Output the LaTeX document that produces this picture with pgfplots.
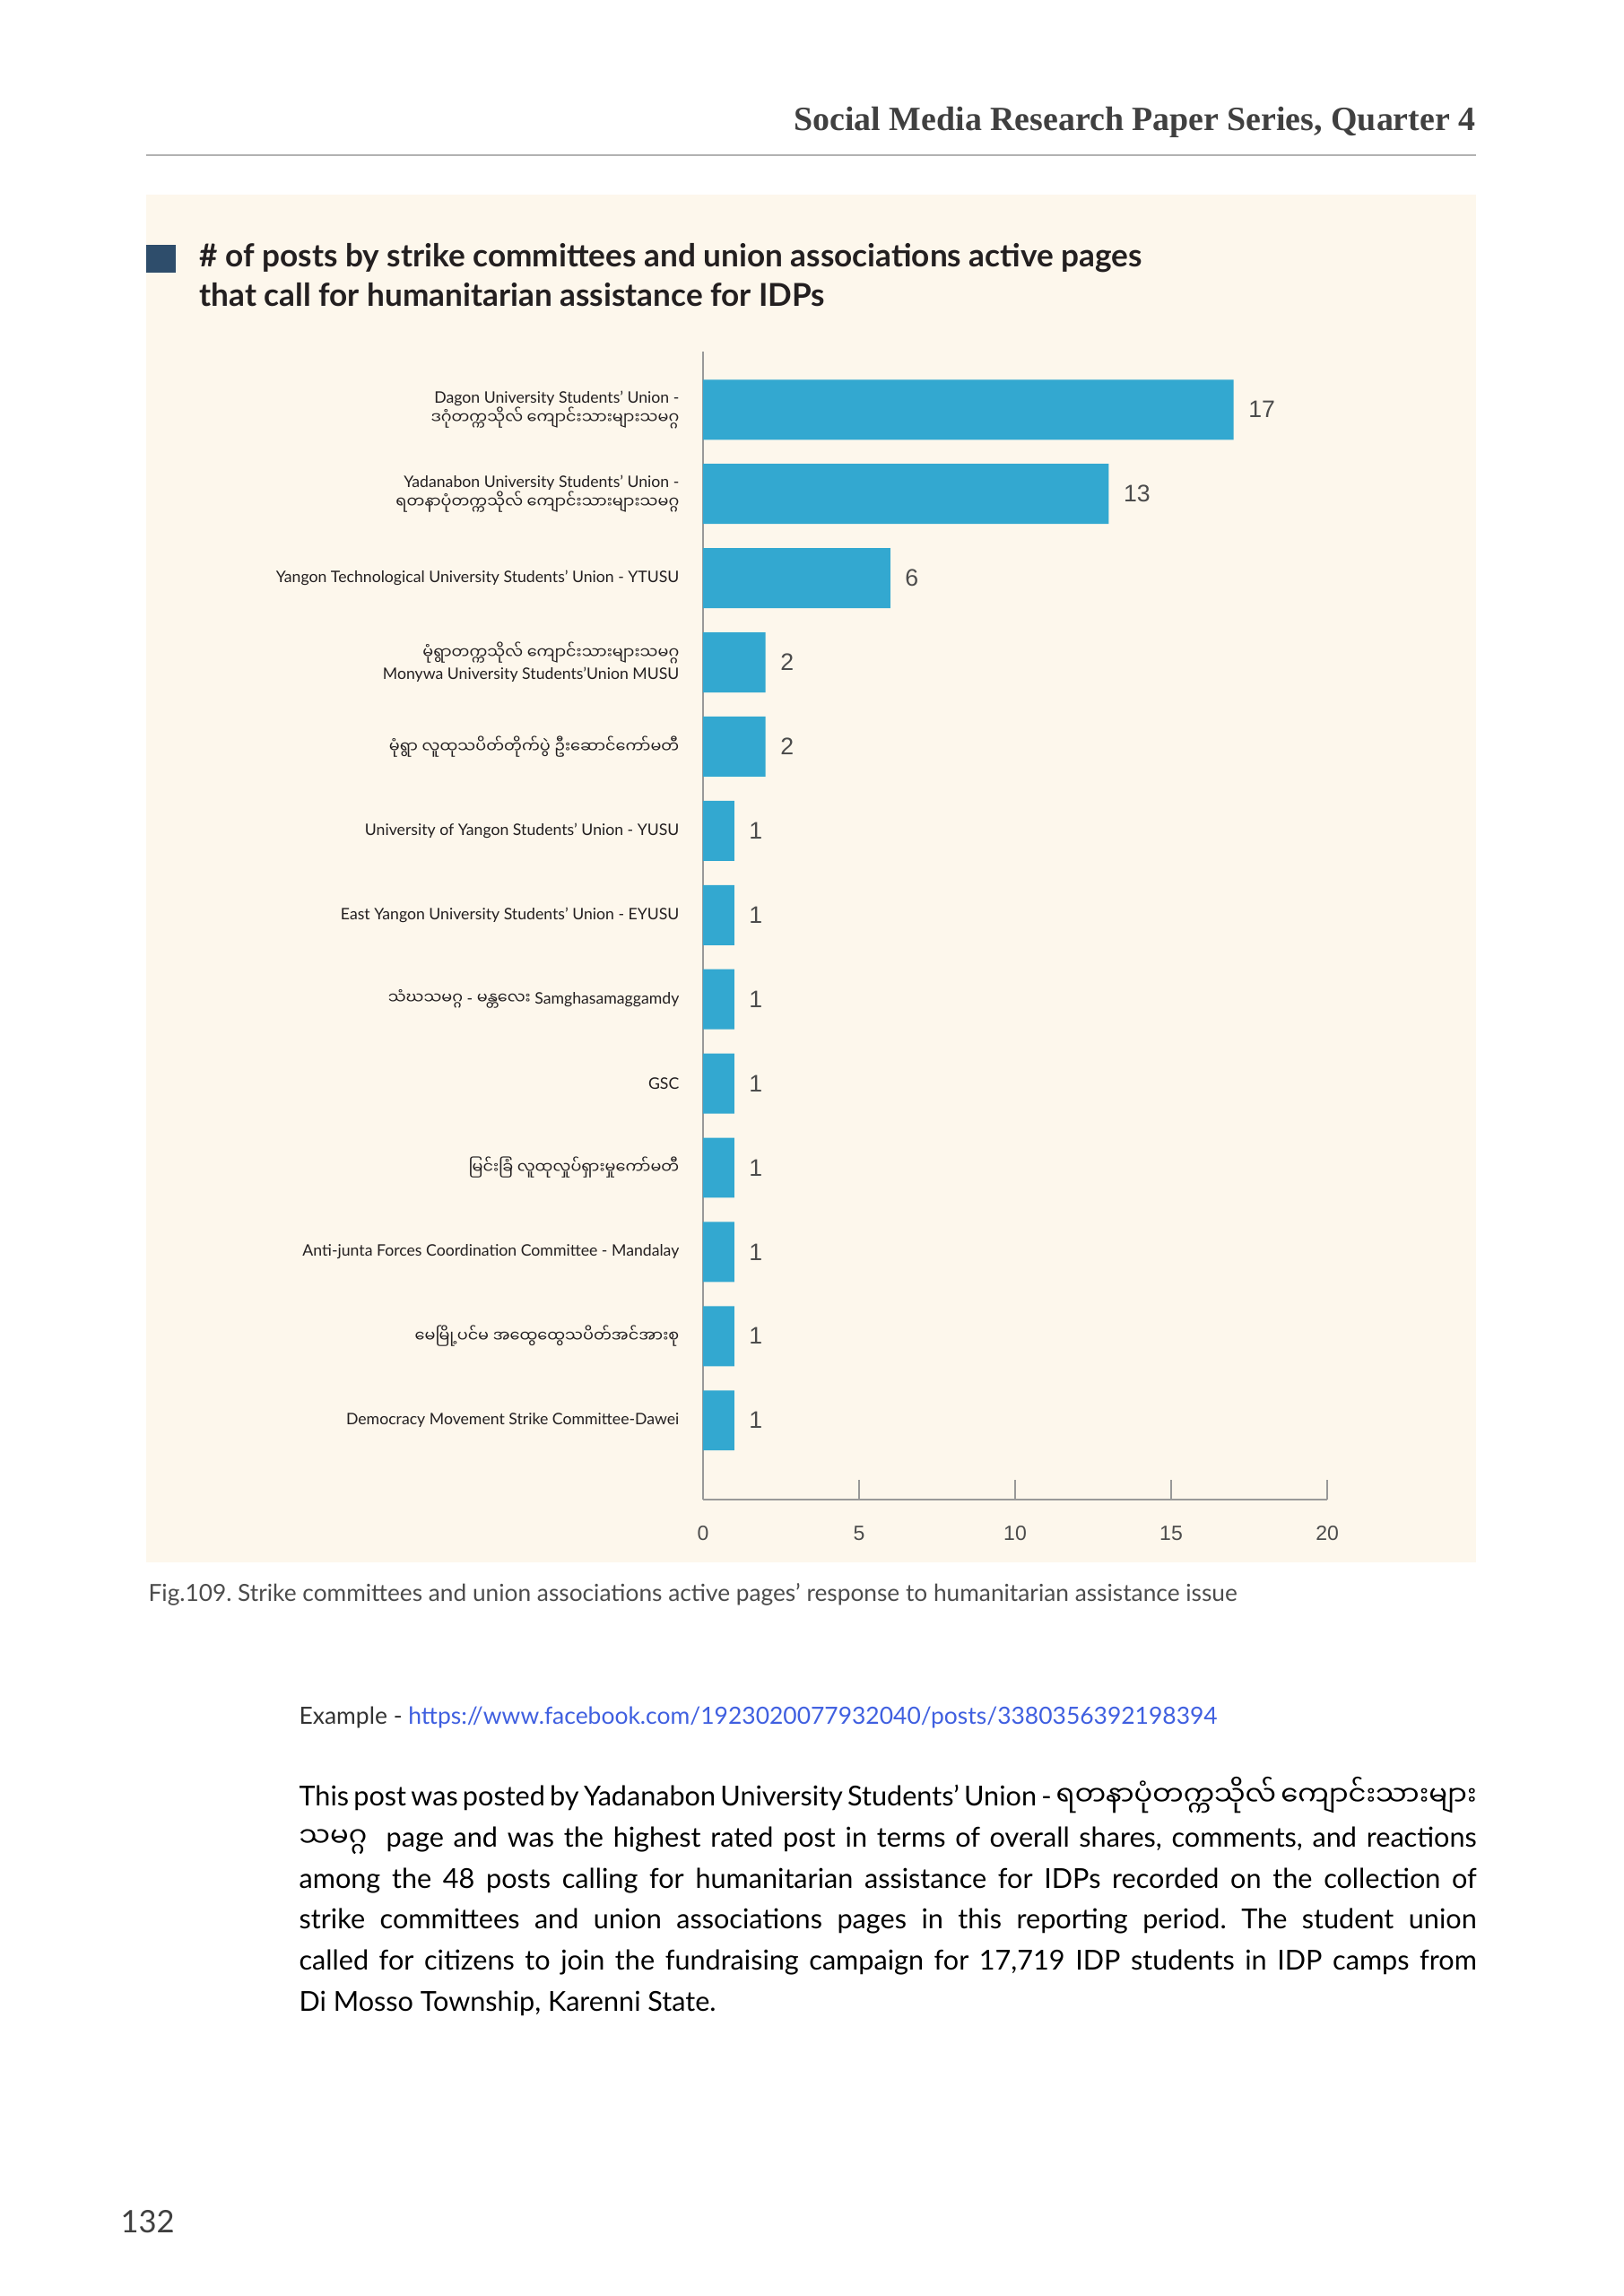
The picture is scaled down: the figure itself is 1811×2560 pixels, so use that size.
\documentclass[border=0pt]{standalone}
\usepackage{fontspec}
\usepackage{pgfplots}
\pgfplotsset{compat=1.18}
\setmainfont{Lato}
\newfontfamily\my[Script=Myanmar]{Noto Sans Myanmar UI}
\newfontfamily\lib{Liberation Sans}
\newfontfamily\ser{Liberation Serif}
\definecolor{bg}{HTML}{FDF7EC}
\definecolor{barc}{HTML}{33A8D0}
\definecolor{sq}{HTML}{2E4D6B}
\definecolor{linkc}{HTML}{3F5FE0}
\definecolor{txt}{HTML}{231F20}
\newcommand\bodyline[1]{\makebox[433.3pt][s]{#1}}
\frenchspacing
\begin{document}
\begin{tikzpicture}[x=0.33pt,y=0.33pt]
\path[use as bounding box, fill=white] (0,0) rectangle (1811,-2560);
% header
\node[anchor=base east, inner sep=0pt, font=\ser\bfseries\fontsize{12.5}{14}\selectfont, text=black!75] at (1646,-145) {Social Media Research Paper Series, Quarter 4};
\draw[black!30, line width=0.7pt] (163,-173) -- (1646,-173);
% panel
\fill[bg] (163,-217) rectangle (1646,-1742);
\fill[sq] (163,-273) rectangle (196,-304);
\node[anchor=base west, inner sep=0pt, font=\bfseries\fontsize{11.6}{13}\selectfont, text=txt] at (222,-297) {\# of posts by strike committees and union associations active pages};
\node[anchor=base west, inner sep=0pt, font=\bfseries\fontsize{11.6}{13}\selectfont, text=txt] at (222,-341) {that call for humanitarian assistance for IDPs};
% chart
\begin{axis}[at={(258.72pt,-551.76pt)}, anchor=south west, scale only axis,
  width=229.7pt, height=422.4pt,
  xbar, bar width=22.1pt,
  xmin=0, xmax=20, ymin=-0.94, ymax=12.69,
  axis x line*=bottom, axis y line*=left,
  axis line style={black!40, line width=0.5pt},
  xtick={0,5,10,15,20}, tick align=inside, major tick length=7.3pt,
  x tick style={black!40, line width=0.5pt},
  ytick={0,...,12}, y tick style={draw=none},
  yticklabels={
    {Democracy Movement Strike Committee-Dawei},
    {\my မေမြို့ပင်မ အထွေထွေသပိတ်အင်အားစု},
    {Anti-junta Forces Coordination Committee - Mandalay},
    {\my မြင်းခြံ လူထုလှုပ်ရှားမှုကော်မတီ},
    {GSC},
    {{\my သံဃသမဂ္ဂ} - {\my မန္တလေး} Samghasamaggamdy},
    {East Yangon University Students' Union - EYUSU},
    {University of Yangon Students' Union - YUSU},
    {\my မုံရွာ လူထုသပိတ်တိုက်ပွဲ ဦးဆောင်ကော်မတီ},
    {{\my မုံရွာတက္ကသိုလ် ကျောင်းသားများသမဂ္ဂ}\\Monywa University Students'Union MUSU},
    {Yangon Technological University Students' Union - YTUSU},
    {Yadanabon University Students' Union -\\{\my ရတနာပုံတက္ကသိုလ် ကျောင်းသားများသမဂ္ဂ}},
    {Dagon University Students' Union -\\{\my ဒဂုံတက္ကသိုလ် ကျောင်းသားများသမဂ္ဂ}}},
  yticklabel style={font=\fontsize{5.83}{7.7}\selectfont, text=txt, align=right, inner sep=0pt, anchor=east, xshift=-8.6pt},
  xticklabel style={font=\lib\fontsize{7.6}{9}\selectfont, text=black!70, inner sep=0pt, anchor=north, yshift=-9.5pt},
  /pgf/number format/assume math mode=true,
  nodes near coords,
  nodes near coords style={font=\lib\fontsize{8.8}{11}\selectfont, text=black!70, anchor=west, inner sep=0pt, xshift=5.3pt},
  clip=false]
\addplot[fill=barc, draw=none] coordinates {
  (1,0) (1,1) (1,2) (1,3) (1,4) (1,5) (1,6) (1,7) (2,8) (2,9) (6,10) (13,11) (17,12)};
\end{axis}
% caption
\node[anchor=base west, inner sep=0pt, font=\fontsize{8.67}{10}\selectfont, text=black!70] at (165,-1785) {Fig.109. Strike committees and union associations active pages’ response to humanitarian assistance issue};
\node[anchor=base west, inner sep=0pt, font=\fontsize{8.73}{10}\selectfont, text=black!80] at (333,-1922) {Example - \textcolor{linkc}{https://www.facebook.com/1923020077932040/posts/3380356392198394}};
% body
\begin{scope}[every node/.style={anchor=base west, inner sep=0pt, font=\fontsize{10.1}{12}\selectfont, text=black}]
\node at (333,-2013) {\bodyline{This post was posted by Yadanabon University Students' Union - {\my ရတနာပုံတက္ကသိုလ် ကျောင်းသားများ}}};
\node at (333,-2059) {\bodyline{{\my သမဂ္ဂ}\ \ page and was the highest rated post in terms of overall shares, comments, and reactions}};
\node at (333,-2105) {\bodyline{among the 48 posts calling for humanitarian assistance for IDPs recorded on the collection of}};
\node at (333,-2150) {\bodyline{strike committees and union associations pages in this reporting period. The student union}};
\node at (333,-2196) {\bodyline{called for citizens to join the fundraising campaign for 17,719 IDP students in IDP camps from}};
\node at (333,-2242) {Di Mosso Township, Karenni State.};
\end{scope}
\node[anchor=base west, inner sep=0pt, font=\fontsize{11.4}{14}\selectfont, text=black!75] at (134,-2489) {132};
\end{tikzpicture}
\end{document}
